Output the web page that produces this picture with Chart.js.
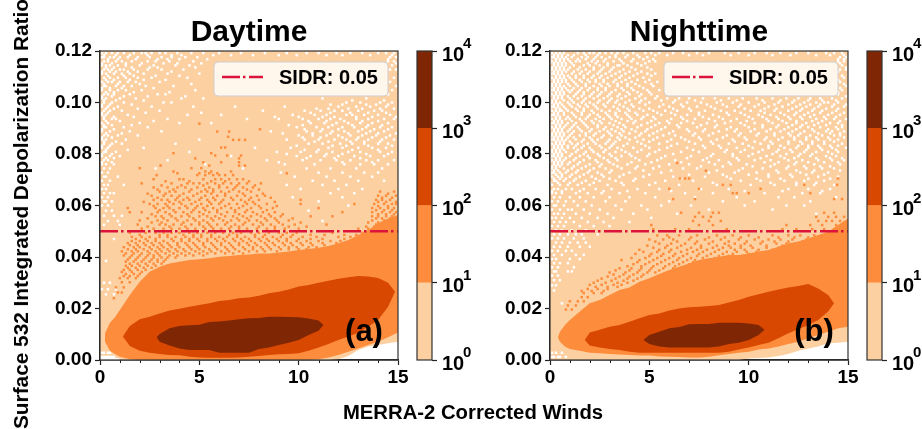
<!DOCTYPE html>
<html>
<head>
<meta charset="utf-8">
<script src="https://cdn.jsdelivr.net/npm/chart.js@4"></script>
<style>
  html, body { margin: 0; padding: 0; background: #fff; }
  #fig { position: relative; width: 922px; height: 429px; overflow: hidden; font-family: "Liberation Sans", Arial, sans-serif; }
  canvas { position: absolute; left: 0; top: 0; }
  .lbl { position: absolute; font-weight: bold; font-size: 20.3px; color: #000; white-space: nowrap; }
  #xlab { left: 473px; top: 412px; transform: translate(-50%, -50%); }
  #ylab { left: 21px; top: 214px; font-size: 20.8px; transform: translate(-50%, -50%) rotate(-90deg); }
</style>
</head>
<body>
<div id="fig">
  <canvas id="dayCb" width="922" height="429"></canvas>
  <canvas id="nightCb" width="922" height="429"></canvas>
  <canvas id="day" width="922" height="429"></canvas>
  <canvas id="night" width="922" height="429"></canvas>
  <div class="lbl" id="xlab">MERRA-2 Corrected Winds</div>
  <div class="lbl" id="ylab">Surface 532 Integrated Depolarization Ratio</div>
</div>
<script>
const sidrValue = 0.05;
const sidrX = [0, 15];
const cbEdges = [1, 10, 100, 1000, 10000];
const cbTicks = [1, 10, 100, 1000, 10000];
const cbExp = ["0", "1", "2", "3", "4"];

// day: count level contours (wind, upper, lower)
const dayL1X = [0, 11.5, 12, 12.5, 13, 13.5, 14, 14.5, 15];
const dayL1Lo = [0, 0, 0.0003, 0.0016, 0.0039, 0.0052, 0.0058, 0.0065, 0.0071];
const dayL2X = [0.25, 0.5, 0.75, 1, 1.5, 2, 2.5, 3, 3.5, 4, 4.5, 5, 5.5, 6, 6.5, 7, 7.5, 8, 8.5, 9, 9.5, 10, 10.5, 11, 11.5, 12, 12.5, 13, 13.5, 14, 14.5, 15];
const dayL2Hi = [0.0104, 0.0145, 0.0166, 0.0194, 0.0252, 0.0304, 0.0343, 0.0362, 0.0375, 0.0382, 0.0388, 0.0391, 0.0395, 0.0401, 0.0404, 0.0408, 0.041, 0.0414, 0.0414, 0.0417, 0.0421, 0.0427, 0.0431, 0.0436, 0.0443, 0.0453, 0.0466, 0.0485, 0.0505, 0.0531, 0.055, 0.0563];
const dayL2Lo = [0.0071, 0.0036, 0.0023, 0.0013, 0.0003, 0, 0, 0, 0, 0, 0, 0, 0, 0, 0, 0, 0, 0, 0, 0, 0, 0, 0, 0.0003, 0.001, 0.0019, 0.0032, 0.0045, 0.0058, 0.0071, 0.0088, 0.0107];
const dayL3X = [1.15, 1.5, 2, 2.5, 3, 3.5, 4, 4.5, 5, 5.5, 6, 6.5, 7, 7.5, 8, 8.5, 9, 9.5, 10, 10.5, 11, 11.5, 12, 12.5, 13, 13.5, 14, 14.5, 14.85];
const dayL3Hi = [0.0091, 0.0132, 0.0158, 0.0168, 0.0181, 0.0192, 0.0199, 0.0207, 0.0214, 0.022, 0.0229, 0.0233, 0.024, 0.0243, 0.025, 0.0259, 0.0265, 0.0274, 0.0285, 0.0291, 0.03, 0.0308, 0.0316, 0.0321, 0.0326, 0.0324, 0.0318, 0.03, 0.0265];
const dayL3Lo = [0.0091, 0.0054, 0.0036, 0.0028, 0.0023, 0.0019, 0.0018, 0.0013, 0.001, 0.0009, 0.0009, 0.0009, 0.001, 0.0013, 0.0016, 0.0019, 0.0022, 0.0023, 0.0026, 0.0036, 0.0049, 0.0062, 0.0078, 0.0091, 0.0106, 0.0129, 0.0155, 0.0207, 0.0265];
const dayL4X = [2.85, 3, 3.5, 4, 4.5, 5, 5.5, 6, 6.5, 7, 7.5, 8, 8.5, 9, 9.5, 10, 10.5, 11, 11.25];
const dayL4Hi = [0.0088, 0.0101, 0.0123, 0.0132, 0.0135, 0.0137, 0.0148, 0.015, 0.0153, 0.0158, 0.0162, 0.0163, 0.0168, 0.0168, 0.0167, 0.0166, 0.0161, 0.0153, 0.0136];
const dayL4Lo = [0.0088, 0.0071, 0.0056, 0.0045, 0.0039, 0.0039, 0.0039, 0.0028, 0.0028, 0.0028, 0.0028, 0.0043, 0.0049, 0.0058, 0.0067, 0.0078, 0.0097, 0.0114, 0.0136];

// night: same contours
const nightL1X = [0, 9.5, 10, 11, 11.5, 12, 12.5, 13, 13.5, 14, 14.5, 15];
const nightL1Lo = [0, 0, 0.0006, 0.001, 0.0016, 0.0023, 0.0036, 0.0045, 0.0052, 0.0065, 0.0067, 0.0071];
const nightL2X = [0.4, 0.5, 0.75, 1, 1.5, 2, 2.5, 3, 3.5, 4, 4.5, 5, 5.5, 6, 6.5, 7, 7.5, 8, 8.5, 9, 9.5, 10, 10.5, 11, 11.5, 12, 12.5, 13, 13.5, 14, 14.5, 15];
const nightL2Hi = [0.0088, 0.011, 0.0136, 0.0155, 0.0188, 0.022, 0.0233, 0.0252, 0.0272, 0.0282, 0.0304, 0.0317, 0.0334, 0.035, 0.0362, 0.0375, 0.0388, 0.0395, 0.0401, 0.0408, 0.0408, 0.0414, 0.0421, 0.0427, 0.044, 0.0453, 0.046, 0.0472, 0.0485, 0.0498, 0.0524, 0.055];
const nightL2Lo = [0.0088, 0.0071, 0.0052, 0.0043, 0.0036, 0.0028, 0.0026, 0.0023, 0.0021, 0.0019, 0.0017, 0.0017, 0.0014, 0.0013, 0.0012, 0.001, 0.001, 0.0013, 0.0018, 0.0023, 0.0028, 0.0032, 0.0041, 0.0045, 0.0052, 0.0062, 0.0071, 0.0084, 0.0097, 0.011, 0.0123, 0.0129];
const nightL3X = [1.75, 2, 2.5, 3, 3.5, 4, 4.5, 5, 5.5, 6, 6.5, 7, 7.5, 8, 8.5, 9, 9.5, 10, 10.5, 11, 11.5, 12, 12.5, 13, 13.5, 14, 14.3];
const nightL3Hi = [0.0078, 0.0107, 0.0117, 0.0129, 0.0136, 0.0149, 0.0162, 0.0175, 0.0181, 0.0192, 0.02, 0.0205, 0.0207, 0.021, 0.0214, 0.0223, 0.0233, 0.0246, 0.0255, 0.0265, 0.0274, 0.0282, 0.0287, 0.0295, 0.0278, 0.0252, 0.022];
const nightL3Lo = [0.0078, 0.0056, 0.0049, 0.0043, 0.0039, 0.0032, 0.0028, 0.0028, 0.0028, 0.0028, 0.0028, 0.0028, 0.0028, 0.0028, 0.0028, 0.0032, 0.0041, 0.0049, 0.0058, 0.0067, 0.0084, 0.0104, 0.0119, 0.0136, 0.0155, 0.0188, 0.022];
const nightL4X = [4.7, 5, 5.5, 6, 6.5, 7, 7.5, 8, 8.5, 9, 9.5, 10, 10.5, 10.8];
const nightL4Hi = [0.0078, 0.0097, 0.011, 0.0123, 0.0128, 0.0139, 0.014, 0.014, 0.0145, 0.0145, 0.0145, 0.0142, 0.0136, 0.0117];
const nightL4Lo = [0.0078, 0.0062, 0.0052, 0.0049, 0.0049, 0.0049, 0.0049, 0.0049, 0.0052, 0.0062, 0.0067, 0.0078, 0.0097, 0.0117];

// empty bins (white) and isolated 10+ bins, by row: [ratio, [winds]]
const dayWhite = [
  [0.1192, [0.1, 0.3, 0.6, 0.9, 1.2, 1.7, 2.1, 2.3, 2.6, 3.0, 3.3, 3.9, 4.6, 5.2, 6.0, 7.1, 8.3, 9.4, 10.4, 11.0, 11.9, 12.6, 13.2, 14.0, 14.4, 14.8]],
  [0.1184, [0.2, 0.8, 1.5, 2.4, 3.6, 4.1, 5.7, 6.6, 7.7, 9.0, 9.9, 11.4, 12.2, 13.6, 14.7]],
  [0.1176, [0.1, 0.2, 0.5, 0.7, 1.0, 1.4, 1.9, 2.5, 3.1, 3.6, 4.3, 4.9, 14.6, 14.9]],
  [0.1168, [0.4, 0.9, 1.8, 2.9, 3.4, 4.0, 5.4, 14.5]],
  [0.116, [0.2, 0.4, 0.8, 1.1, 1.6, 2.4, 2.8, 3.5, 4.7, 14.5, 14.8]],
  [0.1152, [0.1, 0.6, 1.3, 2.1, 3.2, 3.9, 5.1, 14.9]],
  [0.1144, [0.1, 0.3, 0.5, 0.9, 1.3, 2.0, 2.7, 3.8, 4.5, 14.7]],
  [0.1136, [0.3, 0.7, 1.6, 2.5, 2.9, 4.8]],
  [0.1128, [0.2, 0.4, 0.6, 1.0, 1.2, 1.7, 2.4, 3.1, 4.2, 14.6, 14.9]],
  [0.112, [0.1, 0.5, 0.8, 1.4, 1.9, 3.6]],
  [0.1112, [0.1, 0.3, 0.7, 1.1, 1.5, 2.2, 3.4, 5.0]],
  [0.1104, [0.4, 1.2, 1.7, 2.8, 4.0]],
  [0.1096, [0.2, 0.5, 0.9, 1.3, 1.9, 2.6, 4.4, 14.8]],
  [0.1088, [0.3, 0.7, 1.5, 2.2, 3.3]],
  [0.108, [0.1, 0.4, 0.6, 1.0, 1.4, 1.8, 3.0, 14.6]],
  [0.1072, [0.2, 0.9, 2.0, 4.6]],
  [0.1064, [0.2, 0.3, 0.8, 1.2, 1.6, 2.3, 3.7, 14.9]],
  [0.1056, [0.1, 0.5, 1.1, 2.7]],
  [0.1048, [0.1, 0.5, 0.9, 1.3, 2.1, 4.8, 14.7]],
  [0.104, [0.3, 0.7, 1.7, 3.5]],
  [0.1032, [0.2, 0.4, 0.7, 1.5, 2.9, 3.3, 14.5]],
  [0.1024, [0.1, 0.6, 1.2, 2.4, 4.3]],
  [0.1016, [0.1, 0.3, 1.0, 1.8, 4.1, 5.2, 11.2, 13.4]],
  [0.1008, [0.2, 0.8, 2.2, 12.7, 14.3]],
  [0.1, [0.2, 0.6, 1.2, 3.2, 3.6, 12.4, 13.1, 14.1, 14.7]],
  [0.0992, [0.1, 0.5, 1.6, 11.6, 12.2, 13.4, 13.9, 14.5]],
  [0.0984, [0.1, 0.4, 0.9, 2.6, 4.7, 6.8, 9.3, 12.0, 12.9, 13.6, 14.4]],
  [0.0976, [0.3, 0.7, 1.9, 10.9, 11.5, 12.5, 13.2, 14.1, 14.8]],
  [0.0968, [0.2, 0.5, 1.1, 3.0, 8.2, 10.3, 11.1, 11.8, 12.2, 13.0, 13.8, 14.2]],
  [0.096, [0.1, 0.4, 2.3, 5.1, 10.6, 11.6, 12.6, 13.5, 14.4]],
  [0.0952, [0.1, 0.3, 1.4, 4.4, 6.1, 9.7, 10.8, 11.4, 12.4, 12.7, 13.3, 14.0, 14.6]],
  [0.0944, [0.2, 0.7, 1.7, 8.8, 10.0, 11.2, 11.8, 12.9, 13.7, 14.9]],
  [0.0936, [0.2, 0.6, 0.8, 3.4, 7.4, 9.0, 10.2, 11.0, 11.6, 12.1, 12.9, 13.5, 14.3, 14.8]],
  [0.0928, [0.3, 1.0, 2.7, 10.5, 11.4, 12.3, 13.2, 14.0]],
  [0.092, [0.1, 0.4, 2.0, 4.0, 5.6, 10.6, 11.3, 11.9, 12.5, 13.1, 13.7, 14.5]],
  [0.0912, [0.2, 0.6, 1.6, 9.5, 10.2, 11.7, 12.7, 13.5, 14.2]],
  [0.0904, [0.2, 0.3, 1.2, 2.4, 9.9, 10.9, 11.5, 12.2, 12.8, 13.4, 14.1, 14.7]],
  [0.0896, [0.1, 0.7, 10.3, 11.2, 12.0, 13.2, 13.8, 14.5]],
  [0.0888, [0.1, 0.5, 1.5, 3.1, 8.6, 10.4, 11.1, 11.7, 12.3, 13.0, 13.6, 14.3]],
  [0.088, [0.3, 1.1, 9.2, 10.7, 11.6, 12.5, 13.4, 14.0, 14.9]],
  [0.0872, [0.2, 0.4, 0.9, 1.9, 10.0, 10.7, 11.4, 12.0, 12.6, 13.2, 13.9, 14.6]],
  [0.0864, [0.1, 0.6, 10.2, 11.1, 12.2, 13.0, 13.7, 14.4]],
  [0.0856, [0.1, 0.3, 1.3, 5.0, 9.4, 10.3, 11.0, 11.8, 12.4, 12.9, 13.5, 14.2, 14.8]],
  [0.0848, [0.2, 0.8, 10.8, 11.5, 12.6, 13.3, 14.1]],
  [0.084, [0.2, 0.6, 1.1, 3.8, 10.5, 11.2, 12.1, 12.7, 13.3, 14.0, 14.5]],
  [0.0832, [0.1, 0.5, 9.9, 11.7, 12.4, 13.5, 14.7]],
  [0.0824, [0.1, 0.4, 2.2, 7.8, 9.6, 11.5, 12.2, 13.0, 13.7, 14.4]],
  [0.0816, [0.3, 1.4, 10.3, 11.0, 12.7, 14.0]],
  [0.0808, [0.2, 0.3, 0.8, 4.5, 8.9, 10.1, 10.9, 11.7, 12.5, 13.1, 14.1, 14.7]],
  [0.08, [0.1, 0.6, 9.4, 11.4, 12.2, 13.4, 14.5]],
  [0.0792, [0.1, 0.5, 1.0, 6.6, 9.9, 10.6, 11.3, 12.0, 12.8, 13.6, 14.3]],
  [0.0784, [0.3, 0.7, 10.4, 11.8, 13.1]],
  [0.0776, [0.2, 0.4, 3.4, 8.4, 10.2, 11.1, 11.9, 12.6, 13.4, 14.0, 14.8]],
  [0.0768, [0.1, 0.6, 9.0, 12.2, 13.7]],
  [0.076, [0.1, 0.3, 0.7, 5.3, 9.3, 10.8, 12.3, 13.1, 13.8, 14.5]],
  [0.0744, [0.2, 0.5, 2.8, 7.2, 10.4, 11.6, 12.9, 14.2]],
  [0.0728, [0.1, 0.4, 9.1, 11.0, 12.2, 13.3, 14.0]],
  [0.0712, [0.2, 0.3, 0.9, 9.8, 11.4, 12.6, 13.7]],
  [0.0696, [0.1, 0.5, 10.7, 11.8, 13.0, 14.3]],
  [0.068, [0.2, 0.4, 1.2, 9.4, 11.2, 12.4]],
  [0.0664, [0.1, 0.3, 10.1, 12.0, 13.2]],
  [0.0648, [0.2, 0.5, 0.7, 11.6, 12.8]],
  [0.0632, [0.1, 0.4, 9.7, 12.2]],
  [0.0616, [0.2, 0.3, 0.6, 11.0]],
  [0.06, [0.1, 0.4, 12.5]],
  [0.058, [0.3, 0.6, 10.5]],
  [0.056, [0.2, 0.7, 1.1]],
  [0.054, [0.4, 0.9, 11.2]],
  [0.0525, [0.2, 1.0]],
  [0.047, [0.7]],
  [0.0385, [0.3]],
  [0.03, [0.2, 0.5]],
  [0.0275, [0.1, 0.4, 0.8]],
  [0.0255, [0.3, 0.7]],
  [0.0028, [0.1, 0.2, 0.4, 0.5]],
  [0.0012, [0.0, 0.1, 0.2, 0.3, 0.4, 0.5, 0.6, 0.7]],
  [0.0003, [0.1, 0.2, 0.3, 0.4, 0.5, 0.6, 0.7, 0.8, 0.9]]
];
const dayOrange = [
  [0.0918, [5.0]], [0.0896, [8.05]], [0.0887, [5.9, 6.5]], [0.0867, [6.45]], [0.0855, [6.7, 7.0, 7.3]],
  [0.0825, [6.1, 6.3]], [0.0803, [3.7, 5.6]], [0.0794, [5.8, 6.4, 7.1]], [0.0783, [4.8, 7.0]],
  [0.0768, [7.0, 6.1, 5.2]], [0.0755, [3.05, 7.0, 7.3, 5.5]], [0.0745, [2.0, 4.6, 5.1]], [0.0732, [3.7, 5.3, 5.6, 6.6]],
  [0.0725, [3.9, 5.0, 5.5, 5.9, 9.4]], [0.0718, [2.85, 4.9, 5.3, 5.7, 6.0, 6.3, 6.7]], [0.0702, [2.7, 4.0, 4.2, 5.2, 5.8, 6.1, 6.5, 6.9, 7.2]],
  [0.0694, [3.3, 4.5, 5.6, 6.3, 7.5]],
  [0.0686, [2.1, 3.6, 4.4, 4.7, 5.0, 5.4, 5.8, 6.2, 6.6, 7.0, 7.4, 8.1]], [0.0678, [3.1, 4.1, 5.2, 6.0, 6.9, 7.8]], [0.067, [2.7, 3.4, 3.9, 4.3, 4.9, 5.5, 6.0, 6.4, 6.8, 7.2, 7.7]],
  [0.0662, [2.9, 3.7, 4.6, 5.3, 5.7, 6.7, 7.4, 8.0]],
  [0.0654, [3.0, 3.5, 3.8, 4.5, 5.1, 5.4, 5.7, 6.1, 6.5, 7.0, 7.6, 14.1, 14.8]], [0.0646, [2.4, 3.3, 4.2, 4.9, 5.6, 6.3, 7.2, 8.2, 14.5]], [0.0638, [2.6, 3.2, 3.6, 4.0, 4.7, 5.3, 5.9, 6.3, 6.9, 7.3, 7.9, 8.3, 14.0, 14.4, 14.9]],
  [0.063, [2.9, 3.9, 4.4, 5.1, 5.7, 6.6, 7.6, 8.6, 14.2, 14.7]],
  [0.0622, [2.7, 3.1, 3.4, 3.8, 4.2, 4.5, 5.0, 5.4, 5.8, 6.2, 6.7, 7.1, 7.5, 8.0, 10.1, 13.9, 14.2, 14.6]], [0.0614, [2.2, 3.5, 4.0, 4.8, 5.5, 6.1, 7.3, 7.7, 8.8, 14.0, 14.4, 14.9]], [0.0606, [2.5, 2.9, 3.3, 3.7, 4.1, 4.6, 5.1, 5.6, 6.0, 6.5, 6.9, 7.4, 7.8, 8.4, 10.1, 12.8, 13.8, 14.3, 14.7, 14.9]],
  [0.0598, [2.7, 3.4, 4.3, 4.9, 5.4, 6.3, 7.2, 8.0, 8.9, 14.0, 14.5]],
  [0.059, [1.4, 2.8, 3.2, 3.5, 4.0, 4.4, 4.8, 5.2, 5.7, 6.1, 6.6, 7.0, 7.6, 8.1, 8.7, 11.0, 13.7, 14.1, 14.5, 14.8]], [0.0582, [3.0, 3.7, 4.7, 5.3, 5.9, 6.8, 7.4, 8.4, 13.9, 14.3, 14.7]], [0.0574, [1.5, 2.1, 2.9, 3.3, 3.8, 4.2, 4.6, 5.0, 5.5, 5.9, 6.4, 6.8, 7.3, 7.7, 8.2, 8.8, 12.2, 13.7, 14.2, 14.6, 14.9]],
  [0.0566, [2.6, 3.5, 4.4, 5.2, 6.1, 7.0, 7.9, 8.5, 9.2, 14.0, 14.4, 14.8]],
  [0.0558, [2.8, 3.1, 3.6, 4.1, 4.5, 5.0, 5.4, 5.8, 6.3, 6.7, 7.2, 7.6, 8.1, 8.6, 9.1, 10.6, 11.7, 13.7, 14.0, 14.4, 14.7]], [0.055, [2.4, 3.2, 3.8, 4.7, 5.6, 6.0, 6.9, 7.4, 8.3, 8.8, 9.7, 13.9, 14.2, 14.6]], [0.0542, [2.0, 2.9, 3.4, 3.9, 4.4, 4.8, 5.2, 5.7, 6.2, 6.6, 7.0, 7.5, 7.9, 8.4, 8.9, 9.5, 13.7, 14.3, 14.8]],
  [0.0534, [2.6, 3.1, 4.2, 5.0, 5.4, 6.4, 7.3, 8.1, 9.0, 10.1, 13.5, 14.0, 14.5]],
  [0.0526, [1.9, 3.0, 3.3, 3.7, 4.1, 4.6, 5.0, 5.5, 5.9, 6.3, 6.8, 7.2, 7.7, 8.2, 8.6, 9.2, 9.8, 11.4, 13.9, 14.2, 14.6, 14.9]], [0.0518, [2.4, 3.5, 4.3, 5.2, 5.6, 6.6, 7.0, 8.0, 8.8, 9.5, 10.4, 13.4, 13.8, 14.4]], [0.051, [2.1, 2.7, 3.2, 3.6, 4.0, 4.4, 4.8, 5.3, 5.7, 6.1, 6.5, 7.0, 7.4, 7.9, 8.4, 8.8, 9.3, 10.0, 13.0, 13.5, 14.0, 14.4, 14.7]],
  [0.0494, [1.5, 2.3, 2.8, 3.2, 3.6, 4.0, 4.5, 4.9, 5.4, 5.8, 6.2, 6.7, 7.1, 7.6, 8.0, 8.5, 9.0, 9.4, 9.9, 11.7, 13.2, 13.7, 14.1]], [0.0486, [2.0, 3.0, 3.4, 4.2, 4.7, 5.1, 5.6, 6.5, 6.9, 7.8, 8.3, 9.2, 9.7, 10.6, 11.3, 12.3, 12.9, 13.5]], [0.0478, [1.6, 2.1, 2.5, 3.0, 3.4, 3.8, 4.3, 4.7, 5.1, 5.6, 6.0, 6.4, 6.9, 7.3, 7.8, 8.2, 8.7, 9.1, 9.6, 10.2, 10.9, 12.0, 12.6, 13.0]],
  [0.047, [1.8, 2.3, 2.8, 3.6, 4.1, 4.5, 4.9, 5.4, 5.8, 6.2, 6.7, 7.1, 7.5, 8.0, 8.4, 8.9, 9.4, 10.0, 10.6, 11.2, 12.3, 12.8]],
  [0.0462, [1.6, 2.0, 2.4, 2.8, 3.2, 3.7, 4.1, 4.5, 5.0, 5.4, 5.9, 6.3, 6.8, 7.2, 7.6, 8.1, 8.5, 9.0, 9.4, 9.9, 10.4, 11.0, 11.6, 12.1]], [0.0454, [1.4, 1.8, 2.2, 2.6, 3.0, 3.4, 3.9, 4.3, 4.7, 5.2, 5.6, 6.1, 6.5, 7.0, 7.4, 7.8, 8.3, 8.7, 9.2, 9.6, 10.1, 10.6, 11.2, 11.9]], [0.0446, [1.5, 1.9, 2.3, 2.7, 3.1, 3.5, 3.9, 4.4, 4.8, 5.2, 5.7, 6.1, 6.6, 7.0, 7.5, 7.9, 8.4, 8.8, 9.3, 9.7, 10.2, 10.7, 11.3]],
  [0.0438, [1.2, 1.7, 2.0, 2.5, 2.9, 3.2, 3.6, 4.0, 4.5, 4.9, 5.3, 5.8, 6.3, 6.7, 7.2, 7.7, 8.1, 8.5, 9.0, 9.5, 9.9, 10.5, 10.9]],
  [0.043, [1.4, 1.8, 2.2, 2.6, 3.0, 3.4, 3.8, 4.2, 4.6, 5.0, 5.5, 5.9, 6.4, 6.8, 7.3, 7.7, 8.2, 8.6, 9.1, 9.5, 10.0, 10.4]], [0.0422, [1.1, 1.6, 1.9, 2.4, 2.8, 3.1, 3.5, 3.9, 4.3, 4.8, 5.2, 5.6, 6.1, 6.5, 7.0, 7.5, 7.9, 8.3, 8.9]], [0.0414, [1.3, 1.7, 2.1, 2.5, 2.9, 3.3, 3.7, 4.1, 4.5, 5.0, 5.4, 5.8, 6.3, 6.7, 7.2]],
  [0.0406, [1.2, 1.6, 2.0, 2.4, 2.7, 3.0, 3.5, 3.9, 4.3, 4.7, 5.2]], [0.0398, [1.5, 1.9, 2.3, 2.7, 3.1, 3.4, 3.8]], [0.039, [1.4, 1.8, 2.2, 2.6, 2.9, 3.3]], [0.0382, [1.3, 1.7, 2.1, 2.5, 2.9, 3.2]], [0.0374, [1.5, 1.9, 2.3, 2.7, 3.1]], [0.0366, [1.3, 1.6, 2.0, 2.4, 2.8]], [0.0358, [1.4, 1.8, 2.2, 2.6]], [0.035, [1.2, 1.5, 1.9, 2.3]], [0.0342, [1.1, 1.6, 2.1]], [0.0334, [1.3, 1.7, 2.0]], [0.0326, [1.2, 1.5, 1.9]], [0.0318, [1.0, 1.4, 1.8]], [0.0302, [1.1, 1.5]], [0.0282, [1.2, 0.8]], [0.0262, [0.9, 1.1]], [0.024, [0.7]]
];
const nightWhite = [
  [0.1192, [0.1, 0.3, 0.5, 0.7, 1.4, 1.7, 2.0, 2.2, 2.5, 2.8, 3.1, 3.4, 3.7, 4.2, 4.8, 5.1, 5.5, 6.2, 6.7, 7.4, 8.0, 8.8, 9.5, 10.3, 10.9, 11.6, 12.4, 13.0, 13.9, 14.3, 14.7]],
  [0.1184, [0.0, 0.2, 0.4, 0.6, 0.9, 1.2, 1.8, 2.4, 3.3, 3.9, 4.4, 5.3, 5.9, 7.0, 7.7, 9.1, 10.0, 11.2, 12.1, 13.4, 14.1, 14.8]],
  [0.1176, [0.1, 0.2, 0.4, 0.6, 0.8, 1.1, 1.6, 1.9, 2.3, 2.6, 3.0, 3.3, 3.8, 4.5, 4.9, 14.6, 14.9]],
  [0.1168, [0.0, 0.3, 0.5, 0.7, 0.9, 1.4, 1.8, 2.2, 2.8, 3.5, 4.2, 4.7, 5.2, 14.5, 14.8]],
  [0.116, [0.1, 0.3, 0.5, 0.7, 1.0, 1.3, 1.5, 2.1, 2.4, 2.7, 3.2, 3.6, 4.1, 5.0, 5.3, 14.5, 14.8]],
  [0.1152, [0.0, 0.2, 0.4, 0.6, 0.8, 1.1, 1.9, 2.3, 2.9, 3.7, 4.4, 4.8, 14.6]],
  [0.1144, [0.2, 0.4, 0.6, 0.8, 1.2, 1.7, 2.0, 2.5, 2.9, 3.4, 3.5, 3.9, 4.6, 14.7]],
  [0.1136, [0.1, 0.3, 0.5, 0.7, 1.0, 1.5, 2.2, 2.7, 3.2, 4.1, 4.9, 14.9]],
  [0.1128, [0.1, 0.3, 0.5, 0.7, 0.9, 1.4, 1.8, 2.2, 2.6, 3.1, 3.7, 4.3, 5.1, 14.6, 14.9]],
  [0.112, [0.0, 0.2, 0.4, 0.6, 0.8, 1.2, 1.6, 2.0, 2.5, 3.0, 3.5, 4.0, 4.6, 14.5]],
  [0.1112, [0.1, 0.2, 0.4, 0.6, 1.1, 1.5, 1.9, 2.4, 2.8, 3.3, 3.8, 4.4, 4.9, 5.3]],
  [0.1104, [0.0, 0.3, 0.5, 0.7, 0.9, 1.3, 1.7, 2.2, 2.6, 3.1, 3.6, 4.2, 5.1, 14.7]],
  [0.1096, [0.1, 0.3, 0.5, 0.7, 1.0, 1.3, 1.7, 2.1, 2.5, 2.9, 3.5, 4.0, 4.7, 14.8]],
  [0.1088, [0.0, 0.2, 0.4, 0.6, 0.8, 1.1, 1.5, 1.9, 2.3, 2.7, 3.3, 3.8, 4.4, 5.0, 14.5]],
  [0.108, [0.2, 0.4, 0.6, 0.8, 1.2, 1.6, 2.0, 2.3, 2.7, 3.2, 3.6, 4.1, 4.8, 5.4, 14.6]],
  [0.1072, [0.1, 0.3, 0.5, 0.9, 1.3, 1.8, 2.5, 2.9, 3.4, 3.9, 4.3, 5.1, 14.8]],
  [0.1064, [0.1, 0.3, 0.5, 0.7, 1.0, 1.4, 1.8, 2.2, 2.6, 3.0, 3.4, 3.9, 4.5, 5.2, 14.9]],
  [0.1056, [0.0, 0.2, 0.4, 0.6, 0.8, 1.2, 1.6, 2.0, 2.4, 2.8, 3.6, 4.1, 4.7, 14.6]],
  [0.1048, [0.1, 0.2, 0.4, 0.6, 0.9, 1.1, 1.5, 1.9, 2.4, 2.8, 3.3, 3.7, 4.2, 4.9, 5.5, 14.7]],
  [0.104, [0.0, 0.3, 0.5, 0.7, 1.0, 1.4, 1.7, 2.2, 2.6, 3.1, 3.9, 4.4, 5.0, 14.5]],
  [0.1032, [0.1, 0.3, 0.5, 0.7, 1.3, 1.7, 2.1, 2.5, 3.0, 3.5, 4.0, 4.6, 5.1, 14.5]],
  [0.1024, [0.0, 0.2, 0.4, 0.6, 0.9, 1.2, 1.6, 2.0, 2.4, 2.9, 3.4, 3.8, 4.5, 5.4, 14.9]],
  [0.1016, [0.2, 0.4, 0.6, 1.0, 1.4, 1.8, 2.2, 2.7, 3.1, 3.6, 4.3, 4.8, 5.3, 5.9, 6.5, 7.0, 7.7, 8.3, 9.0, 9.7, 10.4, 11.2, 11.9, 12.5, 13.1, 13.6, 14.2, 14.7]],
  [0.1008, [0.1, 0.3, 0.7, 1.1, 1.7, 2.5, 3.0, 3.4, 4.0, 4.6, 5.6, 6.3, 7.3, 8.6, 9.4, 10.7, 11.6, 12.3, 13.0, 13.7, 14.4]],
  [0.1, [0.1, 0.3, 0.5, 0.9, 1.2, 1.6, 2.0, 2.4, 2.9, 3.3, 3.8, 4.5, 5.0, 6.2, 6.9, 7.6, 8.4, 9.2, 10.0, 10.8, 11.5, 12.2, 12.8, 13.4, 13.8, 14.0, 14.5]],
  [0.0992, [0.0, 0.2, 0.4, 0.6, 1.0, 1.4, 1.8, 2.2, 2.7, 3.5, 4.1, 4.8, 5.7, 6.6, 7.9, 8.7, 9.6, 10.5, 11.3, 12.0, 12.6, 13.1, 13.6, 14.3, 14.9]],
  [0.0984, [0.1, 0.2, 0.4, 0.7, 1.1, 1.5, 1.9, 2.3, 2.8, 3.2, 3.7, 4.2, 5.5, 6.0, 6.7, 7.4, 8.1, 8.9, 9.5, 10.3, 11.0, 11.7, 12.4, 12.9, 13.5, 14.2, 14.8]],
  [0.0976, [0.0, 0.3, 0.5, 0.8, 1.3, 1.7, 2.4, 3.4, 3.9, 4.5, 5.0, 6.2, 7.0, 8.3, 9.8, 10.8, 11.4, 12.2, 12.7, 13.3, 13.9, 14.5]],
  [0.0968, [0.1, 0.3, 0.5, 0.6, 0.9, 1.4, 1.7, 2.1, 2.6, 3.0, 3.5, 4.0, 4.7, 5.2, 5.8, 6.4, 7.1, 7.8, 8.6, 9.3, 10.1, 10.6, 11.3, 12.0, 12.6, 13.2, 13.7, 14.4]],
  [0.096, [0.2, 0.4, 0.7, 1.1, 1.6, 2.2, 2.8, 3.3, 3.8, 4.3, 5.4, 6.1, 7.5, 8.9, 9.6, 10.8, 11.6, 12.4, 13.0, 13.6, 14.2, 14.8]],
  [0.0952, [0.1, 0.2, 0.4, 0.7, 1.2, 1.6, 2.0, 2.4, 2.9, 3.3, 3.9, 4.4, 4.9, 5.6, 6.3, 6.9, 7.5, 8.2, 9.0, 9.8, 10.5, 11.1, 11.8, 12.3, 12.8, 13.3, 14.0, 14.6]],
  [0.0944, [0.0, 0.3, 0.5, 0.9, 1.3, 1.9, 2.5, 3.0, 3.4, 4.0, 4.7, 5.2, 6.6, 7.7, 8.5, 10.0, 10.7, 11.4, 12.0, 12.6, 13.1, 13.8, 14.4]],
  [0.0936, [0.1, 0.3, 0.5, 0.8, 1.0, 1.5, 1.8, 2.3, 2.7, 3.1, 3.6, 4.1, 4.6, 5.3, 6.1, 6.7, 7.3, 8.0, 8.7, 9.4, 10.2, 10.9, 11.5, 12.1, 12.7, 13.4, 13.9, 14.3, 14.9]],
  [0.0928, [0.2, 0.4, 0.6, 1.1, 1.6, 2.1, 2.5, 3.3, 3.9, 4.3, 5.1, 5.9, 6.9, 8.3, 9.1, 9.9, 11.0, 11.7, 12.4, 13.2, 13.7, 14.6]],
  [0.092, [0.1, 0.2, 0.4, 0.6, 0.9, 1.3, 1.7, 2.2, 2.6, 3.0, 3.5, 4.2, 4.9, 5.5, 6.0, 6.6, 7.2, 7.9, 8.8, 9.6, 10.3, 11.2, 11.9, 12.4, 12.9, 13.5, 14.1, 14.5]],
  [0.0912, [0.0, 0.3, 0.5, 0.8, 1.2, 1.8, 2.4, 3.2, 3.7, 4.6, 5.3, 6.4, 7.6, 8.4, 9.8, 10.7, 11.5, 12.2, 12.7, 13.3, 13.9, 14.7]],
  [0.0904, [0.1, 0.3, 0.5, 0.7, 1.1, 1.4, 1.9, 2.4, 2.8, 3.4, 3.8, 4.4, 5.1, 5.8, 6.5, 7.4, 8.3, 9.1, 10.0, 10.7, 11.4, 12.0, 12.6, 13.0, 13.6, 14.4, 14.7]],
  [0.0896, [0.0, 0.2, 0.4, 0.6, 1.0, 1.5, 2.1, 2.7, 3.1, 3.6, 4.1, 4.9, 5.6, 6.9, 7.8, 8.9, 9.4, 10.3, 11.1, 11.8, 12.4, 13.2, 14.0, 14.5]],
  [0.0888, [0.2, 0.4, 0.6, 0.9, 1.2, 1.6, 2.0, 2.5, 2.9, 3.3, 3.7, 4.3, 4.8, 5.4, 6.2, 7.0, 7.7, 8.5, 9.3, 10.1, 10.9, 11.6, 12.2, 12.8, 13.3, 13.9, 14.2, 14.8]],
  [0.088, [0.1, 0.3, 0.5, 0.7, 1.1, 1.8, 2.3, 3.0, 3.5, 4.0, 4.6, 5.2, 6.0, 7.3, 8.2, 9.6, 10.5, 11.3, 12.0, 12.6, 13.5, 14.1, 14.6]],
  [0.0872, [0.1, 0.3, 0.5, 0.7, 1.0, 1.5, 1.8, 2.2, 2.7, 3.1, 3.6, 4.5, 5.0, 5.7, 6.3, 7.2, 8.0, 8.9, 9.5, 10.4, 11.3, 12.1, 12.5, 13.1, 13.7, 14.3, 14.6]],
  [0.0864, [0.0, 0.2, 0.4, 0.6, 0.9, 1.2, 2.0, 2.6, 3.4, 3.8, 4.3, 5.4, 6.6, 7.5, 8.7, 9.8, 10.9, 11.7, 12.3, 12.9, 13.4, 14.0, 14.8]],
  [0.0856, [0.1, 0.2, 0.4, 0.6, 0.8, 1.3, 1.7, 2.1, 2.4, 3.0, 3.5, 4.0, 4.7, 5.2, 6.1, 6.8, 7.6, 8.4, 9.2, 9.9, 10.8, 11.5, 12.3, 12.9, 13.5, 14.1, 14.5]],
  [0.0848, [0.0, 0.3, 0.5, 0.7, 1.0, 1.6, 2.2, 2.9, 3.3, 4.4, 5.0, 5.9, 7.0, 8.1, 9.3, 10.3, 11.1, 12.0, 12.6, 13.2, 13.8, 14.3]],
  [0.084, [0.1, 0.3, 0.5, 0.7, 1.1, 1.4, 1.9, 2.3, 2.8, 3.2, 3.9, 4.6, 5.5, 6.4, 7.3, 8.2, 9.0, 9.7, 10.6, 11.2, 12.0, 12.7, 13.2, 13.8, 14.7]],
  [0.0832, [0.0, 0.2, 0.4, 0.6, 0.9, 1.3, 1.7, 2.5, 3.1, 3.7, 4.8, 6.1, 7.7, 8.5, 10.0, 11.0, 11.6, 12.5, 13.0, 13.5, 14.1, 14.5]],
  [0.0824, [0.2, 0.4, 0.6, 0.9, 1.2, 1.6, 2.0, 2.6, 3.0, 3.4, 4.2, 5.0, 5.9, 6.9, 7.8, 8.6, 9.4, 10.2, 11.0, 11.8, 12.4, 13.0, 13.6, 14.2, 14.9]],
  [0.0816, [0.1, 0.3, 0.5, 0.7, 1.4, 2.1, 2.8, 3.6, 4.6, 5.5, 7.2, 8.9, 9.8, 10.7, 11.5, 12.1, 12.9, 13.7, 14.4]],
  [0.0808, [0.1, 0.3, 0.5, 0.8, 1.3, 1.8, 2.2, 2.7, 3.3, 3.8, 4.4, 5.3, 6.6, 7.5, 8.8, 9.6, 10.5, 11.4, 12.2, 12.8, 13.4, 14.0, 14.5]],
  [0.08, [0.0, 0.2, 0.4, 0.6, 1.1, 1.7, 2.4, 3.0, 4.0, 5.0, 6.2, 8.2, 9.2, 10.2, 11.2, 11.9, 12.6, 13.2, 14.2]],
  [0.0792, [0.1, 0.2, 0.4, 0.6, 1.0, 1.5, 1.9, 2.5, 3.1, 3.6, 4.1, 4.9, 5.8, 7.1, 8.1, 9.2, 10.0, 10.9, 11.6, 12.5, 13.1, 13.9, 14.4]],
  [0.0784, [0.0, 0.3, 0.5, 0.8, 1.3, 2.0, 2.7, 3.3, 4.3, 5.6, 6.9, 7.9, 9.4, 10.6, 11.8, 12.3, 13.4, 14.1, 14.7]],
  [0.0776, [0.1, 0.3, 0.5, 0.7, 1.2, 1.7, 2.3, 2.9, 3.4, 4.5, 5.4, 6.3, 7.7, 8.5, 9.5, 10.3, 11.1, 12.0, 12.7, 13.5, 14.2, 14.8]],
  [0.0768, [0.0, 0.2, 0.4, 0.6, 1.0, 1.5, 2.4, 3.0, 4.1, 5.1, 6.6, 8.0, 9.0, 10.8, 11.5, 12.4, 13.0, 13.8, 14.5]],
  [0.076, [0.2, 0.4, 0.6, 0.9, 1.4, 2.0, 2.6, 3.2, 3.9, 4.8, 6.0, 7.0, 8.3, 9.1, 9.9, 11.3, 12.3, 13.3, 14.6]],
  [0.0752, [0.1, 0.3, 0.5, 1.2, 1.8, 2.5, 3.4, 4.4, 5.5, 7.6, 8.7, 10.2, 11.1, 12.0, 12.8, 13.6, 14.1]],
  [0.0744, [0.1, 0.3, 0.7, 1.1, 1.6, 2.2, 2.8, 3.6, 4.3, 5.2, 6.7, 7.4, 9.7, 10.7, 11.9, 12.9, 13.7, 14.3]],
  [0.0736, [0.0, 0.2, 0.4, 0.9, 1.4, 2.0, 3.1, 4.7, 6.1, 8.4, 9.5, 11.4, 12.4, 13.3, 14.6]],
  [0.0728, [0.1, 0.2, 0.5, 0.8, 1.3, 1.9, 2.4, 3.0, 4.0, 5.6, 8.0, 9.3, 10.4, 11.5, 12.6, 13.2, 14.0]],
  [0.072, [0.0, 0.3, 0.6, 1.1, 1.7, 2.6, 3.7, 5.0, 7.0, 8.7, 10.0, 11.0, 12.1, 12.9, 13.8]],
  [0.0712, [0.1, 0.4, 0.6, 1.0, 1.5, 2.1, 2.7, 3.5, 4.7, 6.2, 7.8, 8.9, 11.0, 12.2, 13.5, 14.5]],
  [0.0704, [0.2, 0.5, 0.8, 1.3, 2.3, 3.0, 4.3, 6.6, 9.1, 10.4, 11.6, 13.0, 14.1]],
  [0.0696, [0.2, 0.3, 0.7, 1.2, 1.8, 2.5, 3.3, 4.2, 5.8, 7.2, 9.6, 10.6, 11.8, 12.8, 13.8]],
  [0.0688, [0.0, 0.4, 1.0, 1.6, 2.2, 3.6, 5.3, 8.2, 11.1, 12.4, 13.4]],
  [0.068, [0.1, 0.5, 0.9, 1.4, 2.0, 2.9, 3.7, 5.0, 6.5, 8.4, 10.1, 11.3, 12.4, 13.3, 14.3]],
  [0.0664, [0.2, 0.4, 0.8, 1.1, 1.7, 2.3, 3.1, 4.4, 5.5, 7.6, 9.0, 12.0, 13.0, 14.1]],
  [0.0656, [0.1, 0.6, 1.5, 2.7, 3.9, 6.1, 9.8, 11.7, 13.7]],
  [0.0648, [0.1, 0.3, 0.6, 1.3, 1.9, 2.6, 3.5, 4.8, 6.8, 8.2, 10.8, 12.7, 13.6]],
  [0.0632, [0.2, 0.5, 1.0, 1.5, 2.2, 3.0, 4.0, 5.3, 7.3, 9.4, 11.5, 12.3, 14.4]],
  [0.0616, [0.1, 0.4, 0.8, 1.2, 1.8, 2.8, 3.8, 6.0, 8.7, 10.3, 13.1]],
  [0.06, [0.2, 0.3, 0.7, 1.4, 2.1, 3.3, 4.6, 5.6, 7.1, 9.8, 11.9, 12.8]],
  [0.0584, [0.1, 0.5, 0.9, 1.1, 1.7, 2.5, 3.6, 4.9, 8.0, 11.2]],
  [0.0568, [0.2, 0.4, 0.7, 1.3, 2.0, 2.9, 4.2, 6.4, 13.4]],
  [0.0552, [0.1, 0.3, 0.6, 1.0, 1.6, 2.4, 3.2, 5.1]],
  [0.0536, [0.2, 0.5, 0.8, 1.2, 1.9, 2.7, 4.0]],
  [0.052, [0.1, 0.4, 0.7, 1.5, 2.2, 3.0]],
  [0.0504, [0.3, 0.6, 1.1, 1.8]],
  [0.0488, [0.2, 0.5, 0.9, 1.3, 1.6, 2.4]],
  [0.0472, [0.1, 0.4, 0.7, 1.2, 1.7]],
  [0.0456, [0.3, 0.6, 1.0, 1.4, 1.8]],
  [0.044, [0.2, 0.5, 0.9, 1.5, 2.0]],
  [0.0424, [0.1, 0.4, 0.8, 1.1]],
  [0.0408, [0.2, 0.6, 1.3, 1.7]],
  [0.0392, [0.1, 0.3, 1.0, 1.5]],
  [0.0376, [0.2, 0.5, 0.9]],
  [0.036, [0.1, 0.4, 1.2]],
  [0.0344, [0.2, 0.3, 0.9, 1.1]],
  [0.0328, [0.1, 0.4]],
  [0.031, [0.2, 0.5]],
  [0.029, [0.1, 0.3]],
  [0.027, [0.2]],
  [0.022, [0.6, 2.2]],
  [0.0028, [0.1, 0.3, 0.6]],
  [0.0012, [0.1, 0.2, 0.4, 0.5, 0.8]]
];
const nightOrange = [
  [0.0765, [6.4]], [0.0735, [7.85]], [0.0705, [6.55, 6.8, 7.0, 14.5]], [0.068, [14.45, 12.8, 8.7, 9.1]], [0.0665, [6.0, 7.5, 10.6]], [0.0648, [9.2, 9.4, 10.0, 13.1]],
  [0.0625, [6.2, 7.3, 14.3, 14.7]], [0.0572, [6.6, 7.5, 8.2, 8.5, 13.8, 14.3]], [0.0556, [7.3, 7.7, 8.1, 13.4, 14.0, 14.4, 14.8]], [0.054, [7.2, 8.0, 8.6, 13.5, 13.9, 14.2, 14.6]],
  [0.0524, [5.1, 7.5, 8.2, 11.9, 13.1, 13.7, 14.4, 14.9]], [0.0508, [5.2, 6.3, 7.0, 8.9, 11.7, 12.4, 13.2, 13.8, 14.3]], [0.0484, [5.4, 5.9, 6.5, 7.4, 8.4, 9.2, 10.0, 11.2, 12.0, 12.6, 13.3, 13.9]],
  [0.0476, [6.0, 7.1, 8.0, 8.8, 9.6, 10.5, 11.5, 12.3, 13.0]],
  [0.0468, [5.0, 5.7, 6.2, 7.0, 7.8, 8.6, 9.5, 10.3, 11.0, 11.6, 12.2, 12.9, 13.5]], [0.046, [5.3, 6.4, 7.4, 8.2, 9.0, 9.9, 10.7, 11.3, 12.0, 12.7]], [0.0452, [5.5, 6.1, 6.8, 7.3, 8.0, 8.8, 9.3, 9.8, 10.6, 11.4, 11.9, 12.5]], [0.0444, [4.9, 5.9, 6.6, 7.6, 8.4, 9.0, 9.6, 10.1, 10.9, 11.7]], [0.0436, [5.2, 5.8, 6.4, 7.1, 7.6, 8.2, 8.7, 9.1, 9.6, 10.2, 10.9, 11.5]],
  [0.0428, [4.5, 5.5, 6.1, 6.9, 7.4, 7.9, 8.5, 9.3, 9.8, 10.5, 11.2]],
  [0.042, [4.7, 5.4, 6.0, 6.6, 7.2, 7.7, 8.3, 8.9, 9.4, 9.9, 10.4, 11.1]], [0.0412, [4.3, 5.1, 5.7, 6.3, 6.9, 7.5, 8.1, 8.7, 9.2, 10.0]], [0.0404, [5.0, 5.6, 6.2, 6.7, 7.4, 7.9, 8.5, 9.0, 9.7, 10.3]], [0.0396, [4.1, 4.8, 5.4, 6.0, 6.5, 7.1, 7.7, 8.3]], [0.0388, [3.6, 4.5, 5.2, 5.8, 6.4, 6.9, 7.3, 8.1]],
  [0.038, [4.4, 5.0, 5.6, 6.2, 6.7, 7.2]],
  [0.0372, [4.2, 4.8, 5.4, 6.0, 6.5, 7.0]], [0.0364, [3.9, 4.6, 5.2, 5.8, 6.3]], [0.0356, [3.5, 4.1, 4.6, 5.1, 5.7, 6.2]], [0.0348, [3.3, 4.0, 4.5, 5.0, 5.5]], [0.034, [3.0, 3.8, 4.4, 4.9, 5.3]], [0.0332, [3.2, 3.7, 4.2, 4.7]], [0.0324, [2.9, 3.5, 4.0, 4.6]], [0.0316, [2.6, 3.3, 3.9, 4.4]], [0.0308, [2.4, 3.1, 3.7, 4.2]],
  [0.03, [2.2, 2.8, 3.4, 3.9]], [0.0292, [2.0, 2.6, 3.2, 3.6]], [0.0284, [2.3, 2.9, 3.4]], [0.0276, [1.9, 2.4, 2.9]], [0.0268, [1.6, 2.1, 2.7]], [0.026, [1.7, 2.2, 2.6]], [0.0244, [1.6, 1.9]], [0.0228, [1.0, 1.4, 1.7]], [0.0212, [0.9, 1.3]], [0.0196, [0.8, 1.1]]
];

const LIGHT = "#fdd0a2", MID = "#fd8d3c", DARK = "#d94801", DEEP = "#7f2704";
const FONT = '"Liberation Sans", Arial, sans-serif';

const cells = rows => rows.flatMap(([y, xs]) => xs.map(x => ({ x, y })));
const pts = (xs, ys) => xs.map((x, i) => ({ x, y: ys[i] }));

// upper curve fills down to the lower curve that follows it in the list
function band(xs, hi, lo, color, order) {
  return [
    { data: pts(xs, hi), showLine: true, pointRadius: 0, borderWidth: 0, backgroundColor: color, fill: "+1", order },
    { data: pts(xs, lo), showLine: true, pointRadius: 0, borderWidth: 0, fill: false, order }
  ];
}
function specks(rows, color, order) {
  return {
    data: cells(rows), pointStyle: "rect", pointRadius: 1.75, pointBorderWidth: 0,
    pointBackgroundColor: color, pointHoverRadius: 1.75, order
  };
}

const panelNotes = {
  id: "panelNotes",
  afterDatasetsDraw(chart, args, opts) {
    const { ctx, chartArea: a, scales: { x } } = chart;
    ctx.save();
    // minor ticks
    ctx.strokeStyle = "#222";
    ctx.lineWidth = 1;
    x.ticks.forEach(t => {
      if (t.value % 5 !== 0) {
        const px = Math.round(x.getPixelForValue(t.value)) + 0.5;
        ctx.beginPath(); ctx.moveTo(px, a.bottom); ctx.lineTo(px, a.bottom + 3); ctx.stroke();
      }
    });
    // frame
    ctx.strokeStyle = "#333";
    ctx.lineWidth = 1.2;
    ctx.strokeRect(a.left, a.top, a.right - a.left, a.bottom - a.top);
    // legend box
    const bx = a.left + 114, by = a.top + 11, bw = 174, bh = 34;
    ctx.beginPath();
    ctx.roundRect(bx, by, bw, bh, 4);
    ctx.fillStyle = "rgba(255,255,255,0.8)";
    ctx.fill();
    ctx.strokeStyle = "#cfcfcf";
    ctx.lineWidth = 1;
    ctx.stroke();
    ctx.strokeStyle = "#dc143c";
    ctx.lineWidth = 2.5;
    ctx.setLineDash([18, 3, 2.5, 3.5]);
    ctx.beginPath(); ctx.moveTo(bx + 8, by + 15); ctx.lineTo(bx + 49, by + 15); ctx.stroke();
    ctx.setLineDash([]);
    ctx.fillStyle = "#000";
    ctx.font = "bold 20px " + FONT;
    ctx.textBaseline = "alphabetic";
    ctx.textAlign = "left";
    ctx.fillText(opts.legend, bx + 65, by + 22);
    // panel tag
    ctx.font = "bold 31px " + FONT;
    ctx.textAlign = "center";
    ctx.fillText(opts.tag, a.left + opts.tagX, a.top + 290);
    ctx.restore();
  }
};

function panel(id, title, tag, tagX, left, right, bands, white, orange) {
  const sets = [
    { label: "SIDR: 0.05", data: pts(sidrX, sidrX.map(() => sidrValue)), showLine: true, pointRadius: 0, borderColor: "#dc143c", borderWidth: 2.5, borderDash: [18, 3, 2.5, 3.5], order: 0, fill: false },
    ...band(bands[6], bands[7], bands[8], DEEP, 1),
    ...band(bands[3], bands[4], bands[5], DARK, 2),
    ...band(bands[0], bands[1], bands[2], MID, 3),
    specks(orange, MID, 4),
    specks(white, "#fff", 5),
    ...band(bands[9], bands[9].map(() => 0.12), bands[10], LIGHT, 6)
  ];
  return new Chart(document.getElementById(id), {
    type: "scatter",
    data: { datasets: sets },
    options: {
      responsive: false,
      animation: false,
      events: [],
      layout: { padding: { left: left - 50, right: 922 - right, top: 16, bottom: 39 } },
      plugins: {
        legend: { display: false },
        tooltip: { enabled: false },
        title: { display: true, text: title, fullSize: false, color: "#000", font: { family: FONT, size: 30, weight: "bold", lineHeight: 1.1 }, padding: { top: 0, bottom: 2 } },
        panelNotes: { legend: "SIDR: 0.05", tag, tagX }
      },
      scales: {
        x: {
          type: "linear", min: 0, max: 15,
          afterFit: s => { s.height = 30; },
          ticks: { stepSize: 1, autoSkip: false, maxRotation: 0, padding: 1, color: "#000", font: { family: FONT, size: 19, weight: "bold" }, callback: v => (v % 5 === 0 ? v : "") },
          grid: { drawOnChartArea: false, tickLength: 5, tickWidth: 1.2, tickColor: c => (c.tick && c.tick.value % 5 === 0 ? "#222" : "transparent") },
          border: { color: "#222", width: 1.4 }
        },
        y: {
          type: "linear", min: 0, max: 0.12,
          afterFit: s => { s.width = 50; },
          ticks: { stepSize: 0.02, padding: 3, color: "#000", font: { family: FONT, size: 19, weight: "bold" }, callback: v => v.toFixed(2) },
          grid: { drawOnChartArea: false, tickLength: 5, tickWidth: 1.2, tickColor: "#222" },
          border: { color: "#222", width: 1.4 }
        }
      }
    },
    plugins: [panelNotes]
  });
}

panel("day", "Daytime", "(a)", 264, 100, 398,
  [dayL2X, dayL2Hi, dayL2Lo, dayL3X, dayL3Hi, dayL3Lo, dayL4X, dayL4Hi, dayL4Lo, dayL1X, dayL1Lo], dayWhite, dayOrange);
panel("night", "Nighttime", "(b)", 264, 550, 848,
  [nightL2X, nightL2Hi, nightL2Lo, nightL3X, nightL3Hi, nightL3Lo, nightL4X, nightL4Hi, nightL4Lo, nightL1X, nightL1Lo], nightWhite, nightOrange);

const cbNotes = {
  id: "cbNotes",
  afterDraw(chart) {
    const { ctx, chartArea: a, scales: { y } } = chart;
    ctx.save();
    ctx.strokeStyle = "#333";
    ctx.lineWidth = 1.2;
    ctx.strokeRect(a.left, a.top, a.right - a.left, a.bottom - a.top);
    ctx.fillStyle = "#000";
    ctx.font = "bold 15px " + FONT;
    ctx.textAlign = "left";
    ctx.textBaseline = "middle";
    cbTicks.forEach((v, i) => ctx.fillText(cbExp[i], a.right + 31, y.getPixelForValue(v) - 7));
    ctx.restore();
  }
};

function colorbar(id, left) {
  const colors = [LIGHT, MID, DARK, DEEP];
  return new Chart(document.getElementById(id), {
    type: "bar",
    data: {
      labels: ["count"],
      datasets: colors.map((c, i) => ({ data: [[cbEdges[i], cbEdges[i + 1]]], backgroundColor: c, borderWidth: 0, barPercentage: 1, categoryPercentage: 1, grouped: false }))
    },
    options: {
      responsive: false,
      animation: false,
      events: [],
      layout: { padding: { left, right: 922 - left - 15 - 50, top: 51, bottom: 69 } },
      plugins: { legend: { display: false }, tooltip: { enabled: false } },
      scales: {
        x: { display: false },
        y: {
          type: "logarithmic", position: "right", min: 1, max: 10000,
          afterFit: s => { s.width = 50; },
          afterBuildTicks: s => { s.ticks = cbTicks.map(value => ({ value })); },
          ticks: { padding: 5, labelOffset: 4, autoSkip: false, color: "#000", font: { family: FONT, size: 20, weight: "bold" }, callback: () => "10" },
          grid: { drawOnChartArea: false, tickLength: 5, tickWidth: 1.2, tickColor: "#222" },
          border: { display: false }
        }
      }
    },
    plugins: [cbNotes]
  });
}
colorbar("dayCb", 417);
colorbar("nightCb", 867);
</script>
</body>
</html>
